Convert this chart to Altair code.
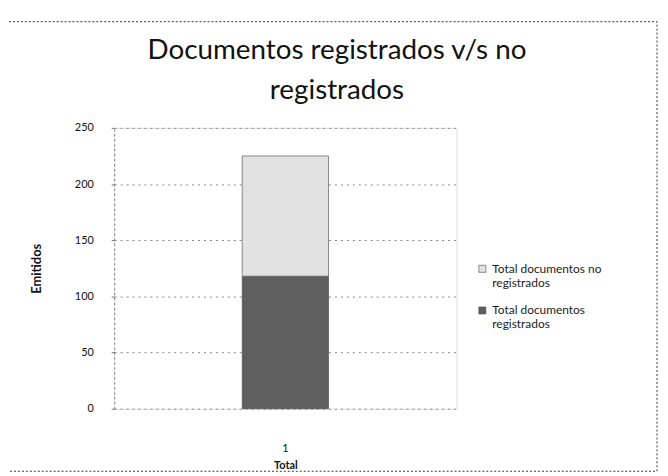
import altair as alt
import pandas as pd

categories = ["1", "1"]
series = ["Total documentos registrados", "Total documentos no registrados"]
values = [118, 107]
stack_order = [1, 2]

df = pd.DataFrame({"cat": categories, "serie": series, "valor": values, "orden": stack_order})

FONT = "Lato"

frame = alt.Chart(pd.DataFrame({"a": [0]})).mark_rect(
    fill=None, stroke="#333", strokeDash=[2, 2], strokeWidth=1
).encode(
    x=alt.value(-110), x2=alt.value(547), y=alt.value(-107), y2=alt.value(346)
)

bars = alt.Chart(df).mark_bar(size=87, stroke="#444", strokeWidth=0.6).encode(
    x=alt.X("cat:N", title="Total",
            axis=alt.Axis(labelAngle=0, labelFont=FONT, labelFontSize=11, titleFont=FONT,
                          titleFontSize=11, titleFontWeight="bold", domain=False, ticks=False,
                          labelPadding=34, titlePadding=6, labelColor="#111", titleColor="#111")),
    y=alt.Y("valor:Q", stack="zero", title="Emitidos",
            scale=alt.Scale(domain=[0, 250]),
            axis=alt.Axis(values=[0, 50, 100, 150, 200, 250], labelFont=FONT, labelFontSize=11,
                          titleFont=FONT, titleFontSize=13, titleFontWeight="bold",
                          gridDash=[2, 4], gridColor="#888", domainDash=[2, 3], domainColor="#777",
                          tickSize=3, tickColor="#777", labelPadding=18, titlePadding=31,
                          labelColor="#111", titleColor="#111")),
    color=alt.Color("serie:N",
                    scale=alt.Scale(domain=["Total documentos no registrados", "Total documentos registrados"],
                                    range=["#e2e2e2", "#5e5e5e"]),
                    legend=alt.Legend(title=None, orient="none", legendX=365, legendY=136,
                                      labelFont=FONT, labelFontSize=12, labelColor="#222",
                                      symbolType="square", symbolSize=50, rowPadding=16,
                                      symbolStrokeColor="#444", symbolStrokeWidth=0.6,
                                      labelExpr="datum.label == 'Total documentos no registrados' ? ['Total documentos no', 'registrados'] : ['Total documentos', 'registrados']")),
    order=alt.Order("orden:Q")
)

chart = alt.layer(frame, bars).properties(
    width=345, height=283,
    autosize=alt.AutoSizeParams(type="none"),
    padding={"left": 107, "top": 119, "right": 205, "bottom": 66},
    title=alt.Title(["Documentos registrados v/s no", "registrados"], font=FONT, fontSize=28,
                    fontWeight="normal", color="#111", anchor="middle", dx=52, offset=-84,
                    lineHeight=40)
).configure_view(stroke=None).configure(background="white")

chart.save("out.html", embed_options={"renderer": "svg", "actions": False})
